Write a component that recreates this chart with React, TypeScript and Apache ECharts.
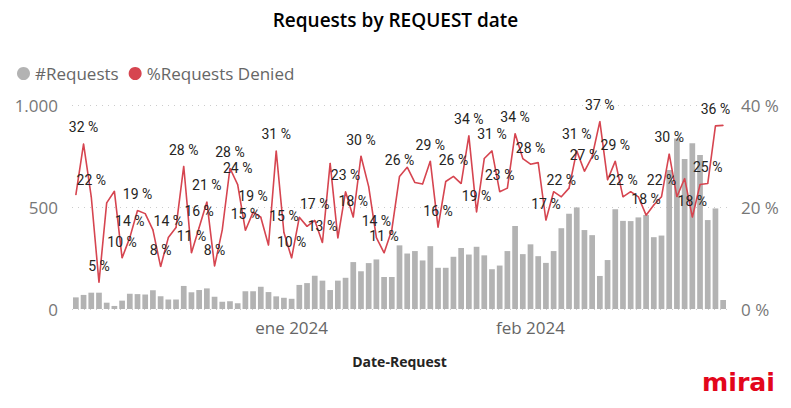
import React, { useEffect, useRef } from "react";
import * as echarts from "echarts";

// ---- data ----
const START_YEAR = 2023;
const START_MONTH = 11; // December (0-based)
const START_DAY = 4;
const DAY_COUNT = 85;

const MONTHS_ES = ["ene", "feb", "mar", "abr", "may", "jun", "jul", "ago", "sep", "oct", "nov", "dic"];

const requests = [
  57, 69, 80, 80, 31, 15, 41, 75, 73, 71,
  92, 62, 46, 46, 113, 82, 93, 101, 60, 36,
  38, 28, 87, 87, 109, 83, 62, 55, 50, 118,
  127, 163, 139, 93, 139, 153, 230, 185, 225, 243,
  157, 157, 312, 272, 284, 238, 308, 202, 202, 256,
  299, 267, 305, 263, 195, 213, 284, 407, 269, 317,
  259, 226, 284, 396, 467, 498, 387, 362, 162, 240,
  489, 432, 431, 449, 461, 352, 360, 681, 836, 735,
  812, 755, 436, 493, 44,
];

const deniedPct = [
  22.4, 32.4, 22, 5.2, 20.8, 23.1, 10, 14, 19.3, 18.7,
  15.5, 8.3, 14, 16, 28, 11, 16, 21, 8.4, 15.5,
  27.6, 24.4, 15.4, 19, 18, 12.5, 31, 15, 10, 18,
  16.2, 17.4, 13, 28.6, 13.9, 23, 18, 30, 24, 14,
  11, 15.5, 26, 27.8, 24.8, 24.5, 29, 16, 25, 26,
  24.6, 34, 19, 29.5, 31, 23, 23.7, 34.4, 29.5, 28.4,
  28.7, 17.4, 23, 22, 23.7, 31, 27, 29.9, 36.8, 25.3,
  29, 22, 23, 22, 18.4, 20.4, 22, 30.4, 22, 25.6,
  18, 24.4, 24.6, 35.9, 36,
];

// points whose data label is visible in the reference
const labeledIdx = [
  1, 2, 3, 6, 7, 8, 11, 12, 14, 15, 16, 17, 18, 20, 21, 22, 23, 26, 27, 28,
  31, 32, 35, 36, 37, 39, 40, 42, 46, 47, 49, 51, 52, 54, 55, 57, 59, 61, 63,
  65, 66, 68, 70, 71, 74, 76, 77, 80, 82, 83,
];

const leftAxis = { min: 0, max: 1000, interval: 500 };
const rightAxis = { min: 0, max: 40, interval: 20 };

const categories: string[] = Array.from({ length: DAY_COUNT }, (_, i) => {
  const d = new Date(Date.UTC(START_YEAR, START_MONTH, START_DAY + i));
  return d.toISOString().slice(0, 10);
});

const FONT = "'Open Sans', 'Noto Sans', sans-serif";

export default function App() {
  const ref = useRef<HTMLDivElement>(null);

  useEffect(() => {
    if (!ref.current) return;
    const chart = echarts.init(ref.current, undefined, { renderer: "svg" });

    const lineData = deniedPct.map((v, i) =>
      labeledIdx.includes(i) ? { value: v, label: { show: true } } : { value: v }
    );

    chart.setOption({
      animation: false,
      backgroundColor: "#ffffff",
      title: {
        text: "Requests by REQUEST date",
        left: "center",
        top: 5,
        textStyle: { fontFamily: FONT, fontSize: 19, fontWeight: 600, color: "#000000" },
      },
      legend: {
        left: 12,
        top: 60,
        icon: "circle",
        itemWidth: 13,
        itemHeight: 13,
        itemGap: 10,
        textStyle: { fontFamily: FONT, fontSize: 17, color: "#666666" },
        data: [
          { name: "#Requests", itemStyle: { color: "#b3b3b3" } },
          { name: "%Requests Denied", itemStyle: { color: "#d64550" } },
        ],
      },
      grid: { left: 72, right: 64, top: 105, bottom: 99 },
      xAxis: {
        type: "category",
        data: categories,
        boundaryGap: true,
        axisLine: { show: false },
        axisTick: { show: false },
        axisLabel: {
          interval: (_idx: number, val: string) => val.endsWith("-01"),
          formatter: (val: string) => {
            const [y, m] = val.split("-");
            return MONTHS_ES[parseInt(m, 10) - 1] + " " + y;
          },
          margin: 10,
          fontFamily: FONT,
          fontSize: 17,
          color: "#666666",
        },
        name: "Date-Request",
        nameLocation: "middle",
        nameGap: 45,
        nameTextStyle: { fontFamily: FONT, fontSize: 14, fontWeight: "bold", color: "#252423" },
      },
      yAxis: [
        {
          type: "value",
          min: leftAxis.min,
          max: leftAxis.max,
          interval: leftAxis.interval,
          axisLine: { show: false },
          axisTick: { show: false },
          axisLabel: {
            margin: 14,
            fontFamily: FONT,
            fontSize: 17,
            color: "#777777",
            formatter: (v: number) => String(v).replace(/\B(?=(\d{3})+(?!\d))/g, "."),
          },
          splitLine: { lineStyle: { color: "#cccccc", type: [1, 5], width: 1 } },
        },
        {
          type: "value",
          min: rightAxis.min,
          max: rightAxis.max,
          interval: rightAxis.interval,
          axisLine: { show: false },
          axisTick: { show: false },
          splitLine: { show: false },
          axisLabel: {
            margin: 14,
            fontFamily: FONT,
            fontSize: 17,
            color: "#777777",
            formatter: (v: number) => v + " %",
          },
        },
      ],
      series: [
        {
          name: "#Requests",
          type: "bar",
          yAxisIndex: 0,
          data: requests,
          barCategoryGap: "26%",
          itemStyle: { color: "#b3b3b3" },
        },
        {
          name: "%Requests Denied",
          type: "line",
          yAxisIndex: 1,
          data: lineData,
          symbol: "circle",
          symbolSize: 1,
          showSymbol: true,
          lineStyle: { color: "#d64550", width: 1.6 },
          itemStyle: { color: "#d64550" },
          label: {
            show: false,
            position: "top",
            distance: 9,
            fontFamily: "Roboto, sans-serif",
            fontSize: 14,
            color: "#252423",
            formatter: (p: any) => Math.round(p.value) + " %",
          },
          labelLayout: { hideOverlap: false },
          z: 3,
        },
      ],
      graphic: [
        {
          type: "text",
          x: 702,
          y: 371,
          scaleX: 1.05,
          style: {
            text: "mirai",
            font: "bold 24px 'DejaVu Sans', sans-serif",
            fill: "#e3061b",
          },
        },
      ],
    });

    return () => chart.dispose();
  }, []);

  return (
    <div
      ref={ref}
      style={{ position: "fixed", left: 0, top: 0, width: 791, height: 408, background: "#fff" }}
    />
  );
}
